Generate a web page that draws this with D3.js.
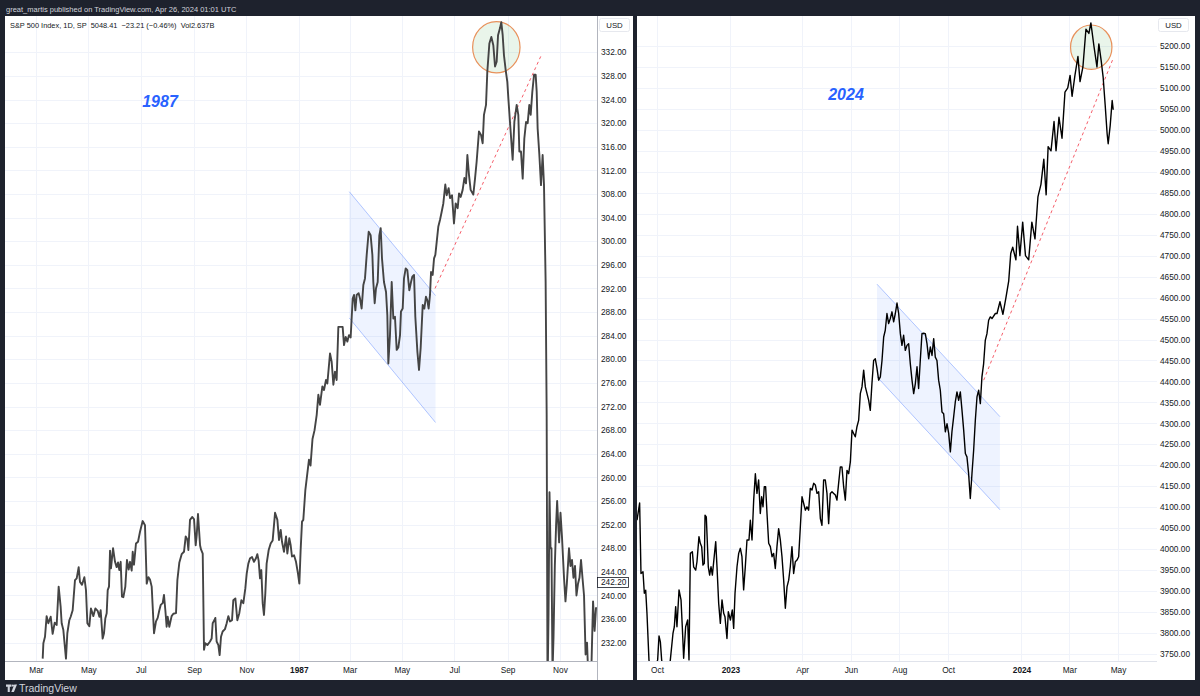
<!DOCTYPE html>
<html><head><meta charset="utf-8">
<script src="https://cdn.jsdelivr.net/npm/d3@7"></script>
<style>
body{margin:0;background:#1e222d;}
svg{display:block;font-family:"Liberation Sans",Arial,sans-serif;}
</style></head>
<body><svg id="c" width="1200" height="696"></svg>
<script>
// ---------- DATA ----------
// Left: S&P 500, 1986-1987. Trading day given as days after 1 Jan 1986.
const leftDay = [66.8,67.6,69.5,71.4,73.4,76.1,78.4,80.8,83.1,85.4,87.7,88.9,90.8,93.9,95.5,97.8,99.4,101.7,104.4,106.4,108.7,110.2,112.6,115.3,117.2,118.8,121.1,123.0,125.8,128.1,130.8,132.8,134.3,136.6,138.2,139.7,141.3,142.5,144.0,145.2,146.3,148.7,151.0,152.9,154.5,156.0,157.6,159.1,160.7,163.0,164.9,166.9,168.5,170.4,171.6,173.1,175.4,177.8,180.1,183.2,185.9,187.9,189.8,191.7,193.7,196.4,198.7,200.7,202.6,204.2,206.5,208.0,209.6,211.1,212.3,214.2,216.9,218.9,222.0,223.6,225.9,228.6,231.3,233.3,235.2,236.4,238.3,241.0,243.0,244.9,246.1,247.6,250.0,251.1,253.1,254.6,256.1,258.5,261.6,263.5,264.7,266.6,267.8,269.3,271.3,272.8,274.4,276.3,279.0,281.0,282.9,284.9,287.2,288.7,291.1,293.4,295.7,298.1,300.4,302.7,304.3,306.2,308.2,310.5,312.8,315.1,316.7,318.2,319.8,321.3,322.9,324.4,326.0,327.5,329.9,332.2,334.5,337.3,340.0,341.9,343.9,345.4,347.7,350.1,351.6,353.9,355.5,357.0,359.4,361.7,364.0,365.6,367.1,368.7,370.2,372.6,376.8,378.6,380.9,383.3,
385.8,387.7,389.6,392.4,394.3,396.6,398.2,401.3,403.2,405.2,407.1,409.0,411.0,416.0,417.6,419.5,421.5,423.4,425.3,427.7,429.2,430.8,432.3,434.6,436.2,438.1,440.1,442.0,444.0,446.3,448.6,450.6,451.7,453.3,454.8,456.8,458.7,460.3,461.8,464.1,466.5,468.0,469.2,471.1,473.1,475.0,476.9,478.9,480.8,482.8,483.9,485.9,487.4,489.4,491.3,493.6,495.6,497.1,499.1,500.6,503.0,504.9,506.8,509.2,511.1,513.0,514.6,516.1,517.7,518.9,520.8,522.4,523.9,525.5,527.4,529.3,531.3,533.2,535.5,537.1,539.4,541.0,543.3,545.6,547.6,549.9,551.5,553.4,555.7,557.7,559.6,561.2,563.1,565.0,568.1,570.1,572.0,574.7,577.1,579.0,580.5,582.9,584.4,586.8,589.1,591.4,593.4,595.3,596.9,599.2,600.7,602.3,603.8,605.8,607.7,608.9,610.8,612.4,613.9,615.9,618.6,620.5,621.7,623.6,625.6,627.5,629.5,631.4,633.3,634.9,636.8,638.8,640.7,641.9,643.0,645.0,646.9,648.8,650.4,652.3,653.5,
654.5,655.7,656.8,658.0,659.1,660.3,661.5,663.0,664.5,665.7,668.0,669.6,671.3,673.7,675.4,677.0,679.5,681.2,683.0,684.7,686.5,688.2,690.0,691.7,693.5,695.2,697.0,698.8,700.5,702.3,704.0,705.8,707.5,709.3,711.0];
const leftClose = [229.3,231.9,233.0,236.5,235.3,236.4,233.5,235.4,235.0,241.5,238.1,235.3,234.2,229.3,233.6,235.8,236.4,237.5,242.6,242.9,244.8,242.3,241.8,243.1,240.9,235.3,234.8,237.8,236.5,237.8,237.4,236.4,237.5,232.7,233.6,236.1,237.0,240.9,241.5,247.6,244.6,248.0,245.7,244.8,245.6,244.3,245.7,239.8,239.7,241.5,246.0,244.4,245.7,244.2,247.4,245.2,248.8,249.1,250.8,252.6,251.9,242.0,243.1,242.7,241.5,233.6,235.6,236.2,237.5,238.4,238.7,240.1,237.5,234.7,236.4,234.7,236.5,236.9,237.0,242.6,245.6,247.0,247.4,250.0,249.5,247.7,252.8,253.3,252.9,248.5,250.2,253.8,248.5,247.8,247.1,230.8,231.9,231.6,232.2,232.7,235.3,235.8,236.2,232.2,231.6,229.9,233.0,233.9,234.3,235.3,236.5,235.6,235.8,239.2,239.5,235.8,237.0,239.2,238.7,241.2,243.7,245.4,246.3,246.5,245.7,246.3,247.0,245.9,242.9,244.3,238.7,236.7,240.4,245.4,247.7,248.8,249.3,254.0,252.8,249.4,251.1,249.1,247.4,250.0,247.1,249.7,248.5,246.6,246.8,245.7,243.7,242.0,247.7,252.5,252.8,257.9,263.0,262.0,266.5,268.0,
270.6,274.0,272.3,275.4,274.8,276.5,275.9,281.0,279.6,275.7,277.9,276.5,285.5,285.5,282.4,283.8,283.0,284.1,283.7,290.3,290.9,288.3,290.9,291.2,290.3,288.6,292.6,293.7,297.7,301.6,301.0,297.7,293.1,289.5,292.0,293.1,301.0,302.2,297.1,293.1,291.4,287.5,279.3,284.1,293.1,286.9,287.2,281.6,282.0,284.1,288.1,288.6,293.7,295.4,295.1,291.7,293.1,294.0,294.3,287.2,281.3,278.2,281.9,289.2,288.6,290.6,290.0,288.6,290.9,294.8,294.3,297.1,297.7,299.9,302.5,303.6,305.0,306.4,309.6,307.8,309.0,307.3,307.8,303.0,306.4,305.6,308.1,307.5,308.7,310.7,309.8,314.6,311.2,308.7,307.9,310.6,313.5,318.6,318.0,316.6,321.4,323.1,328.7,333.5,334.6,333.2,329.6,330.4,334.9,336.1,337.1,334.9,331.5,329.0,327.0,324.2,320.2,316.9,313.8,320.2,323.1,321.4,315.2,315.2,310.6,317.4,320.2,320.0,323.1,321.4,325.3,328.2,328.2,325.3,319.1,314.6,309.5,314.6,309.5,293.1,270.6,
224.0,237.0,257.5,248.0,248.0,227.0,233.0,245.0,252.0,256.0,249.0,254.0,250.0,243.0,239.0,242.0,248.0,245.0,246.0,243.0,245.0,240.0,242.0,243.0,246.0,243.0,240.0,230.0,232.0,225.0,224.0,229.0,239.0,234.0,238.0];

// Right: S&P 500, 2022-2024. Trading day given as days after 1 Jan 2023.
const rightDay = [-117.1,-113.8,-112.1,-109.6,-107.9,-106.2,-104.6,-102.1,-98.7,-91.2,-89.5,-87.8,-86.2,-80.3,-75.3,-72.0,-70.3,-68.6,-67.0,-64.4,-61.9,-60.3,-58.6,-56.1,-53.6,-51.9,-50.2,-47.7,-46.1,-43.5,-41.9,-39.4,-37.7,-36.0,-34.4,-32.7,-31.8,-30.2,-27.7,-26.0,-24.3,-22.6,-20.1,-18.4,-16.8,-14.7,-12.6,-10.5,-8.4,-6.8,-4.3,-2.6,0.0,2.4,4.1,5.8,8.3,10.4,12.5,14.5,16.6,18.7,20.8,23.3,25.0,27.1,29.2,31.3,33.3,35.4,37.5,39.2,40.9,42.5,44.2,45.9,48.0,50.1,52.2,54.2,56.3,58.4,60.5,62.6,64.7,66.8,68.9,71.0,73.1,75.1,77.2,79.3,81.4,83.5,85.6,87.7,89.8,91.9,94.0,96.0,98.1,100.2,102.3,104.4,106.5,108.6,110.7,112.8,114.8,116.9,119.0,121.1,123.2,125.3,127.4,129.5,131.6,133.6,135.7,137.8,139.9,142.0,144.1,146.2,148.3,150.4,152.5,154.5,156.6,158.7,160.8,162.9,165.0,167.1,169.2,171.3,173.4,175.4,177.5,179.6,181.7,183.8,185.9,188.0,190.1,192.2,194.2,196.3,198.4,200.5,202.6,204.7,206.8,208.9,211.0,213.1,215.1,217.2,219.3,221.4,223.5,225.6,227.7,229.8,231.9,234.0,236.0,238.1,240.2,242.3,244.4,246.5,248.6,250.7,252.8,254.9,256.9,259.0,261.1,263.2,265.3,267.4,269.5,271.6,273.7,275.8,277.8,279.9,282.0,284.1,286.2,288.3,290.4,292.5,294.6,296.6,298.7,300.8,302.9,305.0,307.1,309.2,311.3,313.4,315.4,317.5,319.6,321.7,323.8,325.9,328.0,332.2,334.3,
338.0,341.7,345.5,349.0,351.5,354.0,358.0,360.0,363.0,366.5,370.0,374.0,378.0,381.9,385.6,389.4,393.0,395.9,398.4,402.0,405.8,408.3,412.0,415.8,419.5,423.0,425.9,428.4,432.0,435.8,438.4,442.0,445.8,449.5,452.0,455.8,459.6,462.0,464.9,467.4,469.9,472.4,473.7,476.2,478.7,480.0];
const rightClose = [4069,4110,3942,3946,3895,3902,3847,3736,3688,3736,3793,3779,3736,3670,3736,3799,3815,3863,3815,3903,3879,3815,3740,3815,3831,3736,3990,3994,3958,3950,3970,4030,4014,4006,3962,3966,4081,4077,3958,3938,3958,3938,3986,4018,3958,3871,3823,3879,3847,3839,3787,3851,3831,3855,3811,3895,3958,3990,4002,3982,3903,3958,4022,4022,4069,4022,4117,4180,4133,4165,4085,4125,4101,4149,4149,4085,4014,4006,3982,3990,3954,4006,4049,4022,3982,3926,3859,3910,3926,3958,4006,3942,3970,3974,3982,4053,4125,4109,4093,4101,4093,4145,4141,4157,4153,4133,4137,4073,4057,4165,4165,4133,4061,4133,4137,4133,4129,4117,4157,4196,4196,4149,4117,4188,4180,4208,4284,4276,4268,4292,4307,4371,4387,4427,4387,4371,4355,4331,4395,4450,4454,4431,4403,4411,4450,4506,4522,4562,4538,4550,4566,4542,4562,4587,4562,4514,4486,4510,4474,4486,4490,4442,4403,4371,4395,4435,4383,4450,4514,4515,4514,4490,4454,4482,4462,4502,4458,4450,4403,4379,4327,4323,4280,4299,4276,4232,4280,4315,4351,4375,4355,4375,4331,4284,4228,4220,4180,4121,4180,4236,4307,4363,4379,4347,4411,4442,4498,4514,4546,4554,4550,4562,4562,
4590,4560,4600,4640,4705,4720,4690,4770,4700,4780,4700,4690,4780,4740,4840,4870,4930,4845,4960,4950,5020,4950,5030,4980,5090,5100,5130,5080,5130,5175,5115,5150,5240,5230,5255,5200,5150,5205,5165,5125,5060,4990,4967,5010,5070,5048];

// Axis ticks and labels
const leftPriceTicks = [232,236,240,244,248,252,256,260,264,268,272,276,280,284,288,292,296,300,304,308,312,316,320,324,328,332];
const rightPriceTicks = [3750,3800,3850,3900,3950,4000,4050,4100,4150,4200,4250,4300,4350,4400,4450,4500,4550,4600,4650,4700,4750,4800,4850,4900,4950,5000,5050,5100,5150,5200];
const leftTimeTicks = ["1986-03-01","1986-05-01","1986-07-01","1986-09-01","1986-11-01","1987-01-01","1987-03-01","1987-05-01","1987-07-01","1987-09-01","1987-11-01"];
const leftTimeLabels = ["Mar","May","Jul","Sep","Nov","1987","Mar","May","Jul","Sep","Nov"];
const rightTimeTicks = ["2022-10-01","2023-01-01","2023-04-01","2023-06-01","2023-08-01","2023-10-01","2024-01-01","2024-03-01","2024-05-01"];
const rightTimeLabels = ["Oct","2023","Apr","Jun","Aug","Oct","2024","Mar","May"];
const leftLastPrice = 242.20;

// Drawings (day offsets + price levels)
const leftChannelDays = [423.7, 524.1], leftChannelUpper = [308.4, 290.8], leftChannelLower = [287.0, 269.3];
const leftTrendDays = [523.5, 646.6], leftTrendPrices = [292.0, 331.3];
const leftEllipseDays = [567.3, 622.5], leftEllipsePrices = [328.5, 337.2];
const rightChannelDays = [183.8, 338.0], rightChannelUpper = [4632, 4316], rightChannelLower = [4411, 4094];
const rightTrendDays = [317.6, 480.1], rightTrendPrices = [4403, 5171];
const rightEllipseDays = [426.5, 478.4], rightEllipsePrices = [5144, 5250];

// ---------- DRAWING ----------
const svg = d3.select("#c");
const baseL = Date.UTC(1986,0,1), baseR = Date.UTC(2023,0,1);
const dL = d => new Date(baseL + d*864e5), dR = d => new Date(baseR + d*864e5);
const parse = d3.utcParse("%Y-%m-%d");
const AX_FONT = 8.3;

svg.append("rect").attr("width",1200).attr("height",696).attr("fill","#1e222d");
svg.append("text").attr("x",6).attr("y",12).attr("fill","#d1d4dc").attr("font-size",7.5)
  .text("great_martis published on TradingView.com, Apr 26, 2024 01:01 UTC");

function panel(o){
  const g = svg.append("g");
  g.append("rect").attr("x",o.px0).attr("y",16).attr("width",o.px1-o.px0).attr("height",664).attr("fill","#fff");
  const x = d3.scaleUtc().domain(o.xDom).range([o.x0,o.x1]);
  const y = d3.scaleLinear().domain(o.yDom).range([661,16]);
  const grid = g.append("g").attr("stroke","#f0f3fa").attr("stroke-width",1);
  grid.selectAll(".h").data(o.priceTicks).join("line")
    .attr("x1",o.x0).attr("x2",o.x1).attr("y1",d=>Math.round(y(d))+0.5).attr("y2",d=>Math.round(y(d))+0.5);
  grid.selectAll(".v").data(o.timeTicks).join("line")
    .attr("y1",16).attr("y2",661).attr("x1",d=>Math.round(x(parse(d)))+0.5).attr("x2",d=>Math.round(x(parse(d)))+0.5);
  const clipId = "clip"+o.id;
  svg.append("clipPath").attr("id",clipId).append("rect").attr("x",o.x0).attr("y",16).attr("width",o.x1-o.x0).attr("height",645);
  const plot = g.append("g").attr("clip-path",`url(#${clipId})`);
  const ch = [[o.chDays[0],o.chUp[0]],[o.chDays[1],o.chUp[1]],[o.chDays[1],o.chLo[1]],[o.chDays[0],o.chLo[0]]];
  plot.append("path").attr("d", d3.line().x(p=>x(o.dt(p[0]))).y(p=>y(p[1]))(ch)+"Z")
    .attr("fill","rgba(41,98,255,0.08)").attr("stroke","none");
  [[0,1],[3,2]].forEach(([a,b])=>{
    plot.append("line").attr("x1",x(o.dt(ch[a][0]))).attr("y1",y(ch[a][1])).attr("x2",x(o.dt(ch[b][0]))).attr("y2",y(ch[b][1]))
      .attr("stroke","#2962ff").attr("stroke-opacity",0.35).attr("stroke-width",1);
  });
  const ex0=x(o.dt(o.elDays[0])), ex1=x(o.dt(o.elDays[1])), ey0=y(o.elPr[1]), ey1=y(o.elPr[0]);
  plot.append("ellipse").attr("cx",(ex0+ex1)/2).attr("cy",(ey0+ey1)/2).attr("rx",(ex1-ex0)/2).attr("ry",(ey1-ey0)/2)
    .attr("fill","rgba(76,175,80,0.12)").attr("stroke","#e8915b").attr("stroke-width",1.2);
  plot.append("line").attr("x1",x(o.dt(o.trDays[0]))).attr("y1",y(o.trPr[0])).attr("x2",x(o.dt(o.trDays[1]))).attr("y2",y(o.trPr[1]))
    .attr("stroke","#f23645").attr("stroke-opacity",0.8).attr("stroke-width",1).attr("stroke-dasharray","3,3");
  plot.append("path").datum(o.days.map((d,i)=>[d,o.close[i]]))
    .attr("d", d3.line().x(p=>x(o.dt(p[0]))).y(p=>y(p[1])))
    .attr("fill","none").attr("stroke",o.color).attr("stroke-width",o.lw).attr("stroke-linejoin","round");
  g.append("text").attr("x",o.yearX).attr("y",o.yearY).attr("text-anchor","middle")
    .attr("font-size",16).attr("font-weight","bold").attr("font-style","italic").attr("fill","#2962ff").text(o.year);
  const ya = d3.axisRight(y).tickValues(o.priceTicks).tickFormat(d3.format(".2f")).tickSize(0).tickPadding(0);
  const yg = g.append("g").attr("transform",`translate(${o.lx},0)`).call(ya);
  yg.select(".domain").remove();
  yg.selectAll("text").attr("font-size",AX_FONT).attr("fill","#131722").attr("font-family","Liberation Sans, Arial, sans-serif");
  const xa = d3.axisBottom(x).tickValues(o.timeTicks.map(parse)).tickFormat((d,i)=>o.timeLabels[i]).tickSize(0).tickPadding(0);
  const xg = g.append("g").attr("transform","translate(0,667)").call(xa);
  xg.select(".domain").remove();
  xg.selectAll("text").attr("font-size",AX_FONT).attr("fill","#131722").attr("font-family","Liberation Sans, Arial, sans-serif")
    .attr("font-weight",(d,i)=>/^\d{4}$/.test(o.timeLabels[i])?"bold":"normal");
  g.append("rect").attr("x",o.lx-1.5).attr("y",18.5).attr("width",30).attr("height",13).attr("rx",2)
    .attr("fill","#fff").attr("stroke","#e6e8ee");
  g.append("text").attr("x",o.lx+13.5).attr("y",27.8).attr("text-anchor","middle").attr("font-size",7.8).attr("fill","#131722").text("USD");
  return {g,x,y};
}

const L = panel({id:"L", px0:5, px1:633, x0:5, x1:597, lx:601,
  xDom:[dL(22.93), dL(712.1)], yDom:[228.9, 338.15], dt:dL,
  priceTicks:leftPriceTicks, timeTicks:leftTimeTicks, timeLabels:leftTimeLabels,
  days:leftDay, close:leftClose, color:"#444", lw:1.9,
  chDays:leftChannelDays, chUp:leftChannelUpper, chLo:leftChannelLower,
  trDays:leftTrendDays, trPr:leftTrendPrices, elDays:leftEllipseDays, elPr:leftEllipsePrices,
  year:"1987", yearX:160, yearY:107});
L.g.append("line").attr("x1",597.5).attr("x2",597.5).attr("y1",16).attr("y2",680).attr("stroke","#b2b5be");
L.g.append("line").attr("x1",5).attr("x2",597).attr("y1",661.5).attr("y2",661.5).attr("stroke","#b2b5be");
const lpY = L.y(leftLastPrice);
L.g.append("rect").attr("x",597.5).attr("y",lpY-5).attr("width",31).attr("height",10).attr("fill","#fff").attr("stroke","#131722").attr("stroke-width",0.8);
L.g.append("text").attr("x",601).attr("y",lpY+3).attr("font-size",AX_FONT).attr("fill","#131722").text(leftLastPrice.toFixed(2));
L.g.append("text").attr("x",10).attr("y",27.5).attr("font-size",7.4).attr("fill","#131722").style("white-space","pre")
  .text("S&P 500 Index, 1D, SP  5048.41  \u221223.21 (\u22120.46%)  Vol2.637B");

const R = panel({id:"R", px0:637, px1:1195, x0:637, x1:1157, lx:1160,
  xDom:[dR(-117.1), dR(534.9)], yDom:[3733.3, 5271.5], dt:dR,
  priceTicks:rightPriceTicks, timeTicks:rightTimeTicks, timeLabels:rightTimeLabels,
  days:rightDay, close:rightClose, color:"#000", lw:1.4,
  chDays:rightChannelDays, chUp:rightChannelUpper, chLo:rightChannelLower,
  trDays:rightTrendDays, trPr:rightTrendPrices, elDays:rightEllipseDays, elPr:rightEllipsePrices,
  year:"2024", yearX:846, yearY:100});
R.g.append("line").attr("x1",637).attr("x2",1157).attr("y1",661.5).attr("y2",661.5).attr("stroke","#e0e3eb");

const lg = svg.append("g").attr("fill","#d1d4dc");
lg.append("path").attr("d","M6 684.5h5.5v2.2h-1.7v5.3h-2.1v-5.3h-1.7z");
lg.append("circle").attr("cx",12.9).attr("cy",685.6).attr("r",1.1);
lg.append("path").attr("d","M14.3 684.5h2.7l-3.1 7.5h-2.6z");
lg.append("text").attr("x",19).attr("y",692).attr("font-size",10.5).text("TradingView");
</script></body></html>
